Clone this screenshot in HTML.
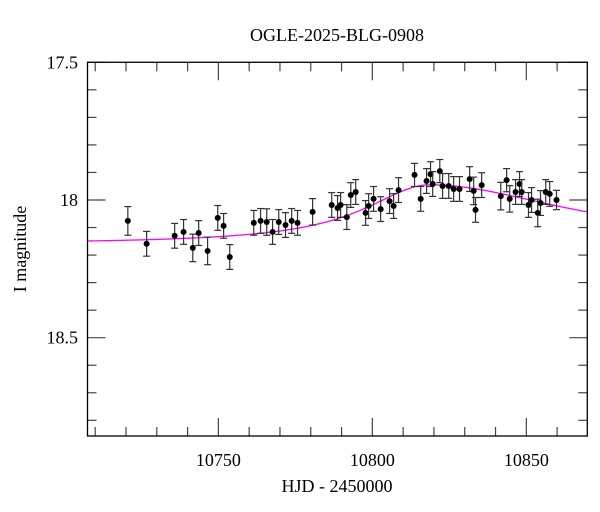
<!DOCTYPE html>
<html><head><meta charset="utf-8"><style>
body{margin:0;background:#fff;}
svg{display:block;font-family:"Liberation Serif",serif;}
</style></head><body>
<svg id="chart" width="600" height="512" viewBox="0 0 600 512">
<text x="337" y="41" text-anchor="middle" font-size="18">OGLE-2025-BLG-0908</text>
<text x="337" y="492" text-anchor="middle" font-size="18">HJD - 2450000</text>
<text transform="translate(26,249) rotate(-90)" text-anchor="middle" font-size="18">I magnitude</text>
<g id="axes"></g>
<g id="model"></g>
<g id="points"></g>
<rect x="87.5" y="62.3" width="499.8" height="373.7" fill="none" stroke="#000" stroke-width="1.3"/>
</svg>
<script>
const hjd=[10720.6,10726.7,10735.8,10738.7,10741.7,10743.6,10746.5,10749.8,10751.7,10753.7,10761.5,10763.7,10765.7,10767.6,10769.6,10771.8,10773.8,10775.7,10780.6,10786.8,10788.7,10789.7,10791.7,10793.0,10794.6,10797.8,10798.8,10800.4,10802.7,10805.6,10806.9,10808.5,10813.7,10815.7,10817.6,10818.9,10819.6,10821.9,10822.8,10824.8,10826.4,10828.3,10831.6,10832.9,10833.5,10835.5,10841.7,10843.6,10844.6,10846.5,10847.8,10848.5,10850.7,10851.7,10853.7,10854.6,10856.3,10857.6,10859.8];
const mag=[18.076,18.159,18.130,18.116,18.174,18.120,18.185,18.065,18.094,18.207,18.083,18.076,18.080,18.116,18.080,18.091,18.076,18.083,18.043,18.018,18.029,18.018,18.062,17.982,17.971,18.047,18.022,17.996,18.033,18.004,18.022,17.964,17.909,17.996,17.931,17.906,17.942,17.895,17.949,17.949,17.960,17.960,17.924,17.967,18.036,17.946,17.986,17.928,17.996,17.971,17.942,17.971,18.018,18.000,18.047,18.011,17.971,17.978,18.000];
const err=[0.052,0.045,0.045,0.045,0.05,0.045,0.05,0.045,0.045,0.045,0.045,0.045,0.048,0.045,0.045,0.045,0.045,0.045,0.048,0.045,0.045,0.045,0.045,0.045,0.045,0.045,0.045,0.045,0.045,0.045,0.045,0.045,0.042,0.045,0.045,0.045,0.045,0.042,0.045,0.045,0.045,0.045,0.045,0.05,0.045,0.045,0.05,0.042,0.048,0.045,0.045,0.045,0.045,0.045,0.05,0.045,0.045,0.045,0.035];
const xTicks=[10750,10800,10850];
const yTicks=[17.5,18,18.5];
const model={base:18.16,depth:0.215,t0:10818.6,wLeft:25.9,wRight:55.7};
const X0=87.5,X1=587.3,Y0=62.3,Y1=436;
const xmin=10707.5,xmax=10869.8,ymin=17.5,ymax=18.857;
const sx=t=>X0+(t-xmin)/(xmax-xmin)*(X1-X0);
const sy=m=>Y0+(m-ymin)/(ymax-ymin)*(Y1-Y0);
const NS="http://www.w3.org/2000/svg";
function mk(tag,attrs,parent){const e=document.createElementNS(NS,tag);for(const k in attrs)e.setAttribute(k,attrs[k]);parent.appendChild(e);return e;}
const axes=document.getElementById('axes');
for(let t=10710;t<=10869;t+=10){
  const major=t%50===0,L=major?18:9,x=sx(t);
  let a=mk('line',{x1:x,x2:x,y1:Y1,y2:Y1-L,stroke:'#444','stroke-width':1.2},axes);
  
  
  let b=mk('line',{x1:x,x2:x,y1:Y0,y2:Y0+L,stroke:'#444','stroke-width':1.2},axes);
  
  
}
xTicks.forEach(t=>{const e=mk('text',{x:sx(t),y:466,'text-anchor':'middle','font-size':18},axes);e.textContent=t;
  
  });
for(let i=0;i<=13;i++){
  const m=17.5+i*0.1,major=i%5===0,L=major?18:9,y=sy(m);
  let a=mk('line',{x1:X0,x2:X0+L,y1:y,y2:y,stroke:'#444','stroke-width':1.2},axes);
  
  
  let b=mk('line',{x1:X1,x2:X1-L,y1:y,y2:y,stroke:'#444','stroke-width':1.2},axes);
  
  
}
yTicks.forEach(m=>{const e=mk('text',{x:78,y:sy(m)+6,'text-anchor':'end','font-size':18},axes);e.textContent=m;
  
  });
function modelMag(t){const w=t<model.t0?model.wLeft:model.wRight;const u=(t-model.t0)/w;return model.base-model.depth/(1+u*u);}
let d='';for(let t=xmin;t<=xmax;t+=0.5){d+=(d?'L':'M')+sx(t).toFixed(2)+','+sy(modelMag(t)).toFixed(2);}
const mp=mk('path',{d:d,fill:'none',stroke:'#ff00ff','stroke-width':1.3},document.getElementById('model'));


const pg=document.getElementById('points');
hjd.forEach((t,i)=>{
  const x=sx(t),y=sy(mag[i]),y1=sy(mag[i]-err[i]),y2=sy(mag[i]+err[i]);
  const g=mk('g',{},pg);
  
  
  mk('line',{x1:x,x2:x,y1:y1,y2:y2,stroke:'#333','stroke-width':1.2},g);
  mk('line',{x1:x-3.5,x2:x+3.5,y1:y1,y2:y1,stroke:'#333','stroke-width':1.2},g);
  mk('line',{x1:x-3.5,x2:x+3.5,y1:y2,y2:y2,stroke:'#333','stroke-width':1.2},g);
  mk('circle',{cx:x,cy:y,r:3,fill:'#000'},g);
});
</script>
</body></html>
